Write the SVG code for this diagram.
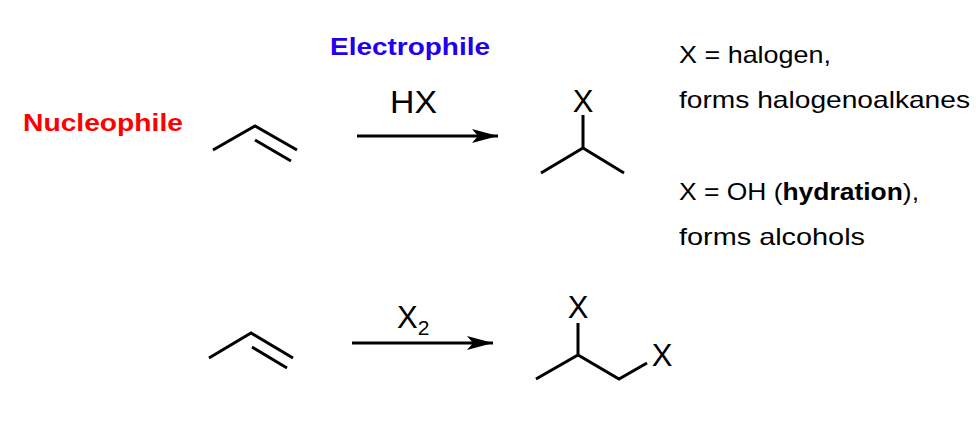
<svg xmlns="http://www.w3.org/2000/svg" width="976" height="423" viewBox="0 0 976 423">
<style>
text{font-family:"Liberation Sans",Arial,sans-serif;fill:#000}
.b{stroke:#000;stroke-width:3;fill:none;stroke-linecap:butt}
.t{font-size:24px}
.m{font-size:31px}
.lbl{font-size:23px;font-weight:bold}
</style>
<defs><marker id="ah2" markerWidth="26" markerHeight="14" refX="26" refY="7" orient="auto" markerUnits="userSpaceOnUse"><path d="M0,0 L26,7 L0,14 L6,7z" fill="#000"/></marker></defs>
<g id="labels">
<text x="330" y="55" class="lbl" style="fill:#2200ee" textLength="160" lengthAdjust="spacingAndGlyphs">Electrophile</text>
<text x="23" y="131" class="lbl" style="fill:#ff0000" textLength="160" lengthAdjust="spacingAndGlyphs">Nucleophile</text>
</g>
<g id="propene1"><path class="b" d="M213,150 L255,126 L297,150 M255,140 L291,161"/></g>
<g id="product1"><text x="583" y="112" class="m" text-anchor="middle">X</text><path class="b" d="M583,115 L583,148 M541,173 L583,148 L624,173"/></g>
<g id="propene2"><path class="b" d="M209,358 L251,333 L293,358 M252,347 L287,368"/></g>
<g id="product2"><text x="578" y="318" class="m" text-anchor="middle">X</text><text x="662" y="366" class="m" text-anchor="middle">X</text><path class="b" d="M578,323 L578,355 M536,379 L578,355 L619,379 L647,363"/></g>
<g id="connectors">
<line class="b" x1="357" y1="136" x2="498" y2="136" marker-end="url(#ah2)"/>
<line class="b" x1="352" y1="343" x2="493" y2="343" marker-end="url(#ah2)"/>
</g>
<g id="reagents">
<text x="390" y="113" class="m" textLength="47" lengthAdjust="spacingAndGlyphs">HX</text>
<text x="397" y="328" class="m">X<tspan font-size="21" dy="7">2</tspan></text>
</g>
<g id="notes">
<text x="679" y="63" class="t" textLength="152" lengthAdjust="spacingAndGlyphs">X = halogen,</text>
<text x="679" y="108" class="t" textLength="291" lengthAdjust="spacingAndGlyphs">forms halogenoalkanes</text>
<text x="679" y="200" class="t" textLength="240" lengthAdjust="spacingAndGlyphs">X = OH (<tspan font-weight="bold">hydration</tspan>),</text>
<text x="679" y="245" class="t" textLength="186" lengthAdjust="spacingAndGlyphs">forms alcohols</text>
</g>
</svg>
